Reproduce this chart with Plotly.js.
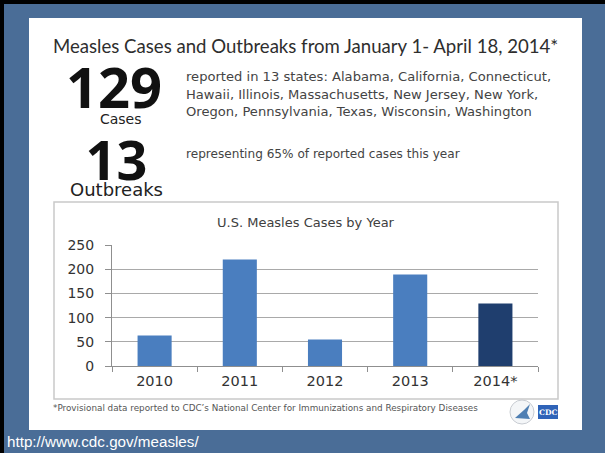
<!DOCTYPE html>
<html><head><meta charset="utf-8">
<script src="https://cdn.plot.ly/plotly-3.0.1.min.js"></script>
<style>html,body{margin:0;padding:0;background:#4a6d97;}</style>
</head><body>
<div id="chart" style="width:605px;height:453px;"></div>
<script>
const years = ['2010','2011','2012','2013','2014*'];
const cases = [63, 220, 55, 189, 129];
const barColors = ['#4a7ebf','#4a7ebf','#4a7ebf','#4a7ebf','#1f3e6e'];
const yTicks = [0, 50, 100, 150, 200, 250];

const W = 605, H = 453;
const L = 112, R = 538, T = 245, B = 366;
const px = x => (x - L) / (R - L);
const py = y => (B - y) / (B - T);

function ann(text, x, y, font, opts) {
  return Object.assign({
    text: text, xref: 'paper', yref: 'paper', x: px(x), y: py(y),
    xanchor: 'left', yanchor: 'middle', showarrow: false,
    font: font
  }, opts || {});
}
const body = {family: 'DejaVu Sans', size: 13.1, color: '#444444'};
const big = s => "<span style=\"font-family:'Open Sans';font-size:" + s + "px;font-weight:bold;color:#111111\">";

const annotations = [
  ann('Measles Cases and Outbreaks from January 1- April 18, 2014*', 305, 46, {family: 'Lato', size: 18.6, color: '#2e2e2e'}, {xanchor: 'center'}),
  ann(big(56) + '129</span><br><span style="font-size:14px">   Cases</span>', 114, 127.5,
      {family: 'DejaVu Sans', size: 12.3, color: '#222222'}, {xanchor: 'center', yanchor: 'bottom', align: 'center', borderpad: 0}),
  ann(big(54) + '13</span><br><span style="font-size:18px">Outbreaks</span>', 116, 201,
      {family: 'DejaVu Sans', size: 12.3, color: '#222222'}, {xanchor: 'center', yanchor: 'bottom', align: 'center', borderpad: 0}),
  ann('reported in 13 states: Alabama, California, Connecticut,', 184, 76, body),
  ann('Hawaii, Illinois, Massachusetts, New Jersey, New York,', 184, 94, body),
  ann('Oregon, Pennsylvania, Texas, Wisconsin, Washington', 184, 111, body),
  ann('representing 65% of reported cases this year', 184, 154, {family: 'DejaVu Sans', size: 12.1, color: '#444444'}),
  ann('U.S. Measles Cases by Year', 306, 222, {family: 'DejaVu Sans', size: 13, color: '#404040'}, {xanchor: 'center'}),
  ann('*Provisional data reported to CDC\u2019s National Center for Immunizations and Respiratory Diseases', 51, 408, {family: 'DejaVu Sans', size: 8.8, color: '#555555'}),
  ann('CDC', 548, 412, {family: 'DejaVu Serif', size: 7.5, color: '#ffffff', weight: 700}, {xanchor: 'center'}),
  ann('http://www.cdc.gov/measles/', 5, 441, {family: 'Liberation Sans', size: 15.2, color: '#ffffff'})
];

const shapes = [
  {type: 'rect', xref: 'paper', yref: 'paper', x0: px(0), x1: px(W), y0: py(0), y1: py(4), fillcolor: '#000000', line: {width: 0}, layer: 'below'},
  {type: 'rect', xref: 'paper', yref: 'paper', x0: px(0), x1: px(4), y0: py(0), y1: py(H), fillcolor: '#000000', line: {width: 0}, layer: 'below'},
  {type: 'rect', xref: 'paper', yref: 'paper', x0: px(29), x1: px(582), y0: py(18), y1: py(430), fillcolor: '#ffffff', line: {width: 0}, layer: 'below'},
  {type: 'rect', xref: 'paper', yref: 'paper', x0: px(54), x1: px(558), y0: py(202), y1: py(399), fillcolor: 'rgba(0,0,0,0)', line: {width: 1.5, color: '#c9c9c9'}, layer: 'below'},
  {type: 'circle', xref: 'paper', yref: 'paper', x0: px(510), x1: px(534), y0: py(400), y1: py(424), fillcolor: '#f4f6f8', line: {width: 1, color: '#c8ccd2'}, layer: 'above'},
  {type: 'path', xref: 'paper', yref: 'paper', path: 'M ' + px(515) + ' ' + py(418) + ' L ' + px(524) + ' ' + py(410) + ' L ' + px(530) + ' ' + py(404) + ' L ' + px(527) + ' ' + py(413) + ' L ' + px(530) + ' ' + py(419) + ' Z', fillcolor: '#4f7fb3', line: {width: 0}, layer: 'above'},
  {type: 'rect', xref: 'paper', yref: 'paper', x0: px(538), x1: px(558), y0: py(405), y1: py(419), fillcolor: '#2f63b8', line: {width: 0}, layer: 'above'}
];

const trace = {
  type: 'bar', x: years, y: cases,
  marker: {color: barColors, line: {width: 0}},
  hoverinfo: 'skip'
};

const layout = {
  width: W, height: H,
  margin: {l: L, r: W - R, t: T, b: H - B, pad: 0},
  paper_bgcolor: '#4a6d97', plot_bgcolor: 'rgba(0,0,0,0)',
  bargap: 0.6,
  showlegend: false,
  xaxis: {
    type: 'category', showgrid: false, zeroline: false,
    showline: true, linecolor: '#8f8f8f', linewidth: 1,
    ticks: 'outside', tickson: 'boundaries', ticklen: 5, tickcolor: '#8f8f8f',
    tickfont: {family: 'DejaVu Sans', size: 14.5, color: '#333333'},
    ticklabelstandoff: 2,
    fixedrange: true
  },
  yaxis: {
    range: [0, 250], tickvals: yTicks, ticktext: yTicks.map(String),
    showgrid: true, gridcolor: '#a9a9a9', gridwidth: 1, zeroline: false,
    showline: true, linecolor: '#8f8f8f', linewidth: 1,
    ticks: 'outside', ticklen: 6, tickcolor: '#8f8f8f',
    tickfont: {family: 'DejaVu Sans', size: 14, color: '#333333'},
    ticklabelstandoff: 8,
    fixedrange: true
  },
  shapes: shapes,
  annotations: annotations
};

Plotly.newPlot('chart', [trace], layout, {displayModeBar: false, staticPlot: true});
</script>
</body></html>
